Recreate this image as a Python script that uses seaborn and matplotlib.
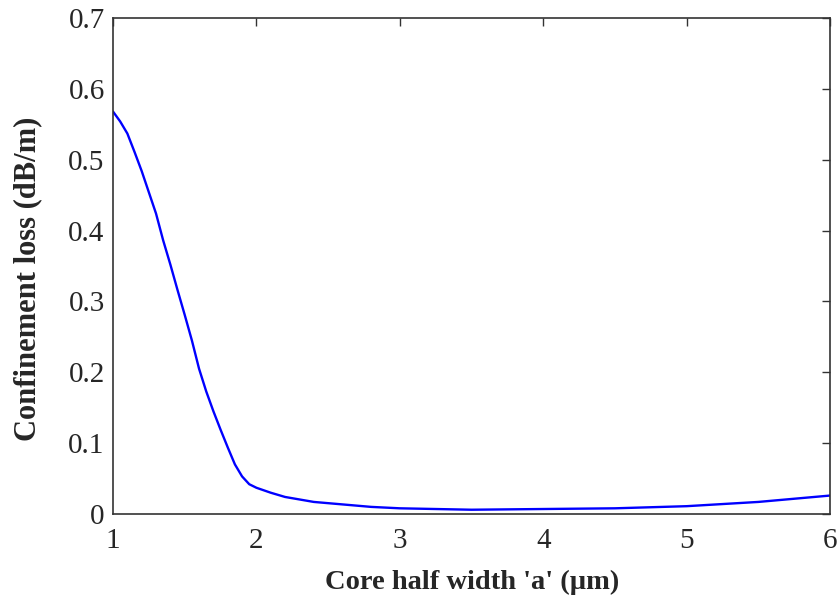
import numpy as np
import pandas as pd
import matplotlib
matplotlib.use('Agg')
import matplotlib.pyplot as plt
import seaborn as sns

# core half width (um) and confinement loss (dB/m)
half_width = [1.0, 1.05, 1.1, 1.15, 1.2, 1.25, 1.3, 1.35, 1.4, 1.45, 1.5, 1.55, 1.6, 1.65,
              1.7, 1.75, 1.8, 1.85, 1.9, 1.95, 2.0, 2.1, 2.2, 2.4, 2.6, 2.8, 3.0,
              3.5, 4.0, 4.5, 5.0, 5.5, 6.0]
conf_loss = [0.568, 0.554, 0.537, 0.511, 0.484, 0.454, 0.424, 0.386, 0.352, 0.316, 0.281, 0.245, 0.205, 0.173,
             0.145, 0.119, 0.094, 0.070, 0.053, 0.042, 0.037, 0.030, 0.024, 0.017, 0.0135, 0.010, 0.008,
             0.006, 0.007, 0.008, 0.011, 0.017, 0.026]

xticks = [1, 2, 3, 4, 5, 6]
yticks = [0, 0.1, 0.2, 0.3, 0.4, 0.5, 0.6, 0.7]
ytick_labels = ['0', '0.1', '0.2', '0.3', '0.4', '0.5', '0.6', '0.7']

df = pd.DataFrame({'a': half_width, 'loss': conf_loss})

sns.set_style('white')
plt.rcParams['font.family'] = ['Liberation Serif', 'DejaVu Serif']

fig = plt.figure(figsize=(8.39, 6.01), dpi=100)
ax = fig.add_axes([0.1347, 0.1448, 0.8546, 0.8252])

sns.lineplot(data=df, x='a', y='loss', color='#0000ff', linewidth=1.7, ax=ax)

ax.set_xlim(1, 6)
ax.set_ylim(0, 0.7)
ax.set_xticks(xticks)
ax.set_xticklabels([str(t) for t in xticks])
ax.set_yticks(yticks)
ax.set_yticklabels(ytick_labels)
ax.tick_params(direction='in', length=6, width=1, color='#333333',
               top=True, right=True, labelsize=21)
ax.tick_params(axis='x', pad=10)
ax.tick_params(axis='y', pad=6)
for s in ax.spines.values():
    s.set_color('#333333')
    s.set_linewidth(1.2)

ax.set_xlabel("Core half width 'a' (\u00b5m)", fontsize=20.5, fontweight='bold', va='center')
ax.set_ylabel('Confinement loss (dB/m)', fontsize=22, fontweight='bold', va='center')
ax.xaxis.set_label_coords(0.5007, -0.139)
ax.yaxis.set_label_coords(-0.119, 0.474)

fig.savefig('out.png', dpi=100)
